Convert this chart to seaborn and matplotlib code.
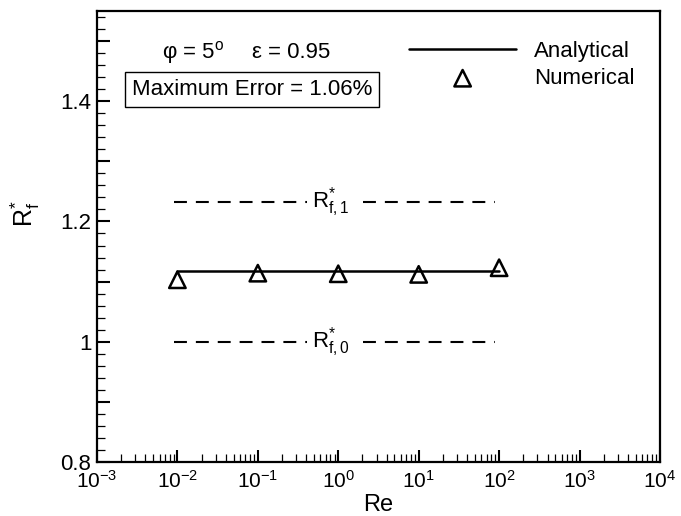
import numpy as np
import pandas as pd
import seaborn as sns
import matplotlib.pyplot as plt
from matplotlib.ticker import MultipleLocator, LogLocator

# values
re_analytical = [0.01, 100]
rf_analytical = [1.118, 1.118]
re_numerical = [0.01, 0.1, 1, 10, 100]
rf_numerical = [1.103, 1.114, 1.113, 1.112, 1.123]
re_bounds = [0.009, 90]
rf_1 = 1.232
rf_0 = 1.0

sns.set_theme(style="ticks")
plt.rcParams['font.family'] = ['Liberation Sans', 'DejaVu Sans']
plt.rcParams['mathtext.fontset'] = 'custom'
plt.rcParams['mathtext.rm'] = 'Liberation Sans'
plt.rcParams['mathtext.it'] = 'Liberation Sans:italic'
plt.rcParams['mathtext.sf'] = 'Liberation Sans'
plt.rcParams['axes.unicode_minus'] = False
for key in ['text.color', 'axes.labelcolor', 'xtick.color', 'ytick.color']:
    plt.rcParams[key] = 'black'

fig = plt.figure(figsize=(6.81, 5.16), dpi=100)
ax = fig.add_axes([0.1424, 0.1047, 0.8267, 0.874])

analytical = pd.DataFrame({'Re': re_analytical, 'Rf': rf_analytical})
numerical = pd.DataFrame({'Re': re_numerical, 'Rf': rf_numerical})

sns.lineplot(data=analytical, x='Re', y='Rf', color='black', lw=1.8,
             label='Analytical', ax=ax)
sns.scatterplot(data=numerical, x='Re', y='Rf', marker='^', s=140,
                facecolor='none', edgecolor='black', linewidth=1.8,
                label='Numerical', ax=ax)

# dashed reference lines, broken around their labels
dash = (0, (6.2, 4.3))
for rf, lab in [(rf_1, r'$\mathrm{R}^{*}_{\mathrm{f,1}}$'), (rf_0, r'$\mathrm{R}^{*}_{\mathrm{f,0}}$')]:
    ax.plot([re_bounds[0], 0.41], [rf, rf], ls=dash, color='black', lw=1.5)
    ax.plot([2.03, re_bounds[1]], [rf, rf], ls=dash, color='black', lw=1.5)
    ax.text(0.8, rf, lab, ha='center', va='center', fontsize=16)

ax.set_xscale('log')
ax.set_xlim(1e-3, 1e4)
ax.set_ylim(0.8, 1.55)
ax.xaxis.set_major_locator(LogLocator(base=10, numticks=10))
ax.xaxis.set_minor_locator(LogLocator(base=10, subs=np.arange(2, 10), numticks=10))
ax.yaxis.set_minor_locator(MultipleLocator(0.02))
ax.set_yticks([0.8, 0.9, 1.0, 1.1, 1.2, 1.3, 1.4, 1.5])
ax.set_yticklabels(['0.8', '', '1', '', '1.2', '', '1.4', ''])

ax.tick_params(which='major', direction='in', length=9, width=1.5,
               top=False, right=False, pad=4)
ax.tick_params(axis='y', which='major', labelsize=16)
ax.tick_params(axis='x', which='major', labelsize=15, pad=6)
ax.tick_params(which='minor', direction='in', length=5.5, width=0.9,
               top=False, right=False)
for s in ax.spines.values():
    s.set_linewidth(1.6)
    s.set_color('black')

ax.set_xlabel('Re', fontsize=17, labelpad=1)
ax.set_ylabel(r'$\mathrm{R}^{*}_{\mathrm{f}}$', fontsize=18)
ax.yaxis.set_label_coords(-0.097, 0.55)

ax.text(0.1155, 0.909, 'φ = 5$^{\\mathrm{o}}$', transform=ax.transAxes,
        fontsize=16, va='center')
ax.text(0.275, 0.909, 'ε = 0.95', transform=ax.transAxes,
        fontsize=16, va='center')
ax.text(0.062, 0.826, 'Maximum Error = 1.06%', transform=ax.transAxes,
        fontsize=16, va='center',
        bbox=dict(boxstyle='square,pad=0.3', facecolor='white', edgecolor='black', lw=1))

ax.legend(loc='upper left', bbox_to_anchor=(0.535, 0.958), frameon=False,
          fontsize=16, borderpad=0, handlelength=4.8, handletextpad=0.8,
          labelspacing=0.27)

fig.savefig('out.png', dpi=100)
